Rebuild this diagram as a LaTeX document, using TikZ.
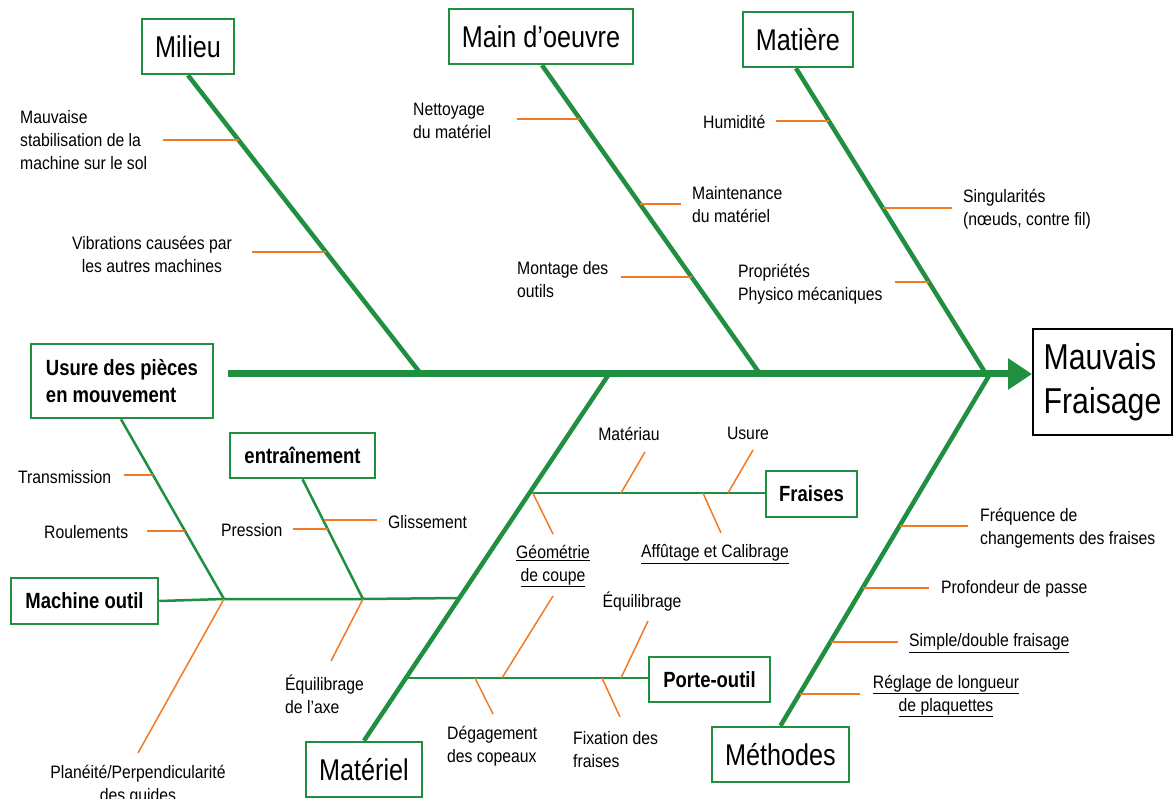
\documentclass[tikz,border=0pt]{standalone}
\usepackage{fontspec}
\setmainfont{Liberation Sans}[FakeStretch=0.84]
\newfontfamily\causefont{Liberation Sans}[FakeStretch=0.875]
\usetikzlibrary{arrows.meta,calc}
\definecolor{fishgreen}{RGB}{33,143,64}
\definecolor{tieorange}{RGB}{242,122,38}
\tikzset{
  catbox/.style={draw=fishgreen, line width=2.5pt, fill=white, inner sep=0pt,
    font=\fontsize{30}{34}\selectfont},
  subbox/.style={draw=fishgreen, line width=2.5pt, fill=white, inner sep=0pt,
    font=\fontsize{22}{27}\selectfont\bfseries},
  effectbox/.style={draw=black, line width=2pt, fill=white, inner sep=0pt,
    align=left, font=\fontsize{36}{44}\selectfont},
  cause/.style={inner sep=0pt, font=\causefont\fontsize{18}{23}\selectfont},
  spine/.style={draw=fishgreen, line width=7pt},
  bone/.style={draw=fishgreen, line width=4.5pt},
  twig/.style={draw=fishgreen, line width=2.5pt},
  tie/.style={draw=tieorange, line width=1.5pt},
}
\begin{document}
\begin{tikzpicture}[x=1pt,y=-1pt]
\useasboundingbox (0,0) rectangle (1173,799);
\fill[white] (0,0) rectangle (1173,799);

% ---------- boxes ----------
\node[catbox, minimum width=92pt, minimum height=55pt] (milieu) at (188,46.5) {Milieu};
\node[catbox, minimum width=184pt, minimum height=55pt] (mainoeuvre) at (541,36.5) {Main d’oeuvre};
\node[catbox, minimum width=110pt, minimum height=55pt] (matiere) at (798,39.5) {Matière};
\node[catbox, minimum width=116pt, minimum height=55pt] (materiel) at (364,769.5) {Matériel};
\node[catbox, minimum width=137pt, minimum height=55pt] (methodes) at (780.5,754.5) {Méthodes};
\node[effectbox, minimum width=139pt, minimum height=106pt] (effect) at (1102.5,382) {Mauvais\\Fraisage};

\node[subbox, align=left, minimum width=182pt, minimum height=74pt] (usure) at (122,381) {Usure des pièces\\en mouvement};
\node[subbox, minimum width=147pt, minimum height=46pt] (machine) at (84.5,601) {Machine outil};
\node[subbox, minimum width=145pt, minimum height=45pt] (entrain) at (302.5,455.5) {entraînement};
\node[subbox, minimum width=91pt, minimum height=46pt] (fraises) at (811.5,494) {Fraises};
\node[subbox, minimum width=121pt, minimum height=45pt] (porte) at (709.5,679.5) {Porte-outil};

% ---------- spine and main bones ----------
\coordinate (spineL) at (228,374);
\coordinate (jMil) at (421,374);
\coordinate (jMain) at (760,374);
\coordinate (jMat) at (986,374);
\coordinate (jMatl) at (609,374);
\coordinate (jMeth) at (990,374);
\draw[spine, -{Triangle[length=24pt,width=30pt]}] (spineL) -- (spineL -| effect.west);
\draw[bone] (milieu.south) -- (jMil);
\draw[bone] (mainoeuvre.south) ++(1,0) -- (jMain);
\draw[bone] (matiere.south) ++(-2,0) -- (jMat);
\draw[bone] (materiel.north) -- (jMatl);
\draw[bone] (methodes.north) -- (jMeth);

% ---------- secondary branches ----------
\coordinate (jUsure) at (224,599);
\coordinate (jEntr) at (363,599);
\coordinate (jMO) at (459.2,598);
\coordinate (jFr) at (529.8,493);
\coordinate (jPo) at (406.6,678);
\draw[twig] (machine.east) -- (jUsure) -- (jEntr) -- (jMO);
\draw[twig] (usure.south) ++(-1,0) -- (jUsure);
\draw[twig] (entrain.south) -- (jEntr);
\draw[twig] (jFr) -- (jFr -| fraises.west);
\draw[twig] (jPo) -- (jPo -| porte.west);

% ---------- Milieu ----------
\node[cause, anchor=west, align=left] (cMauv) at (20,140) {Mauvaise\\stabilisation de la\\machine sur le sol};
\node[cause, align=center] (cVib) at (152,254) {Vibrations causées par\\les autres machines};
\coordinate (a1) at (163,140); \coordinate (b1) at (239.3,140);
\coordinate (a2) at (252,252); \coordinate (b2) at (326.3,252);
\draw[tie] (a1) -- (b1);
\draw[tie] (a2) -- (b2);

% ---------- Main d'oeuvre ----------
\node[cause, anchor=west, align=left] (cNet) at (413,121) {Nettoyage\\du matériel};
\node[cause, anchor=west, align=left] (cMaint) at (692,205) {Maintenance\\du matériel};
\node[cause, anchor=west, align=left] (cMont) at (517,280) {Montage des\\outils};
\coordinate (a3) at (517,119); \coordinate (b3) at (579.9,119);
\coordinate (a4) at (681,204); \coordinate (b4) at (639.9,204);
\coordinate (a5) at (621,277); \coordinate (b5) at (691.5,277);
\draw[tie] (a3) -- (b3);
\draw[tie] (b4) -- (a4);
\draw[tie] (a5) -- (b5);

% ---------- Matière ----------
\node[cause, anchor=west] (cHum) at (703,122) {Humidité};
\node[cause, anchor=west, align=left] (cSing) at (963,209) {Singularités\\(nœuds, contre fil)};
\node[cause, anchor=west, align=left] (cProp) at (738,284) {Propriétés\\Physico mécaniques};
\coordinate (a6) at (776,121); \coordinate (b6) at (829.4,121);
\coordinate (a7) at (952,208); \coordinate (b7) at (883.3,208);
\coordinate (a8) at (895,282); \coordinate (b8) at (929.1,282);
\draw[tie] (a6) -- (b6);
\draw[tie] (b7) -- (a7);
\draw[tie] (a8) -- (b8);

% ---------- Usure des pièces en mouvement ----------
\node[cause, anchor=west] (cTrans) at (18,477) {Transmission};
\node[cause, anchor=west] (cRoul) at (44,532) {Roulements};
\node[cause, align=center] (cPlan) at (138,785) {Planéité/Perpendicularité\\des guides};
\coordinate (a9) at (124,475); \coordinate (b9) at (153.4,475);
\coordinate (a10) at (147,531); \coordinate (b10) at (185.3,531);
\coordinate (a11) at (138,753);
\draw[tie] (a9) -- (b9);
\draw[tie] (a10) -- (b10);
\draw[tie] (jUsure) -- (a11);

% ---------- entraînement ----------
\node[cause, anchor=west] (cPres) at (221,530) {Pression};
\node[cause, anchor=west] (cGliss) at (388,522) {Glissement};
\node[cause, anchor=west, align=left] (cEqAxe) at (285,694) {Équilibrage\\de l’axe};
\coordinate (a12) at (377,520); \coordinate (b12) at (323.8,520);
\coordinate (a13) at (293,529); \coordinate (b13) at (328.3,529);
\coordinate (a14) at (331,661);
\draw[tie] (b12) -- (a12);
\draw[tie] (a13) -- (b13);
\draw[tie] (jEntr) -- (a14);

% ---------- Fraises ----------
\node[cause] (cMatiau) at (629,434) {Matériau};
\node[cause] (cUsure) at (748,433) {Usure};
\node[cause, align=center] (cGeom) at (553,566) {\underline{Géométrie}\\\underline{de coupe}};
\node[cause] (cAff) at (715,554) {\underline{Affûtage et Calibrage}};
\coordinate (b15) at (621,493); \coordinate (a15) at (645,452);
\coordinate (b16) at (728,493); \coordinate (a16) at (753,450);
\coordinate (a17) at (553,534);
\coordinate (b18) at (703,493); \coordinate (a18) at (721,533);
\draw[tie] (b15) -- (a15);
\draw[tie] (b16) -- (a16);
\draw[tie] (jFr) ++(3,0) -- (a17);
\draw[tie] (b18) -- (a18);

% ---------- Porte-outil ----------
\node[cause] (cEq) at (642,602) {Équilibrage};
\node[cause, anchor=west, align=left] (cDeg) at (447,746) {Dégagement\\des copeaux};
\node[cause, anchor=west, align=left] (cFix) at (573,750) {Fixation des\\fraises};
\coordinate (b19) at (502,678); \coordinate (a19) at (553,596);
\coordinate (b20) at (621,678); \coordinate (a20) at (648,621);
\coordinate (b21) at (475,678); \coordinate (a21) at (493,714);
\coordinate (b22) at (602,678); \coordinate (a22) at (620,717);
\draw[tie] (b19) -- (a19);
\draw[tie] (b20) -- (a20);
\draw[tie] (b21) -- (a21);
\draw[tie] (b22) -- (a22);

% ---------- Méthodes ----------
\node[cause, anchor=west, align=left] (cFreq) at (980,528) {Fréquence de\\changements des fraises};
\node[cause, anchor=west] (cProf) at (941,589) {Profondeur de passe};
\node[cause, anchor=west] (cSimple) at (909,643) {\underline{Simple/double fraisage}};
\node[cause, align=center] (cRegl) at (946,696) {\underline{Réglage de longueur}\\\underline{de plaquettes}};
\coordinate (b23) at (899.6,526); \coordinate (a23) at (968,526);
\coordinate (b24) at (862.7,588); \coordinate (a24) at (929,588);
\coordinate (b25) at (830.6,642); \coordinate (a25) at (898,642);
\coordinate (b26) at (799.6,694); \coordinate (a26) at (860,694);
\draw[tie] (b23) -- (a23);
\draw[tie] (b24) -- (a24);
\draw[tie] (b25) -- (a25);
\draw[tie] (b26) -- (a26);
\end{tikzpicture}
\end{document}
